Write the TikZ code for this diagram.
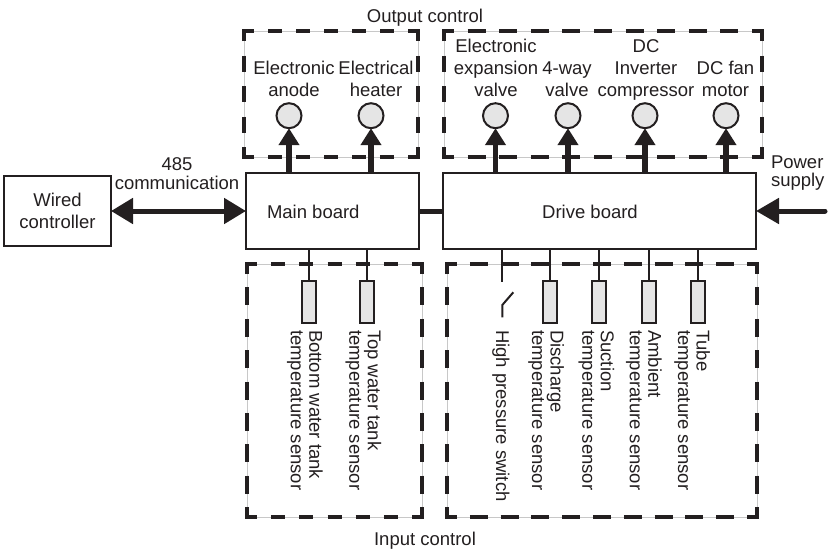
\documentclass[tikz,border=0pt]{standalone}
\usepackage{fontspec}
\setmainfont{Liberation Sans}
\usetikzlibrary{arrows.meta,calc}
\definecolor{ink}{HTML}{231F20}
\definecolor{lgray}{HTML}{E5E5E5}
\definecolor{framegray}{HTML}{C8C8C8}
% one side of a dashed frame: from #1 to #2, length #3, #4 dashes of length #5
\newcommand{\dside}[5]{%
  \pgfmathsetmacro\dsGap{(#3-20-#4*#5)/(#4+1)}%
  \foreach \k in {1,...,#4} {%
    \pgfmathsetmacro\dsS{10+\k*\dsGap+(\k-1)*#5}%
    \pgfmathsetmacro\dsE{\dsS+#5}%
    \draw[dashseg] ($(#1)!\dsS pt!(#2)$) -- ($(#1)!\dsE pt!(#2)$);
  }}
% dashed frame (x1,y1)-(x2,y2); #5 dashes of #6 on horizontal sides, #7 dashes of #8 on vertical sides
\newcommand{\dframe}[8]{%
  \coordinate (fa) at (#1,#2); \coordinate (fb) at (#3,#2);
  \coordinate (fc) at (#3,#4); \coordinate (fd) at (#1,#4);
  \draw[thinframe] (fa) rectangle (fc);
  \foreach \p/\q/\r in {fa/fb/fd, fb/fc/fa, fc/fd/fb, fd/fa/fc} {%
    \draw[dashseg, line join=miter] ($(\p)!10pt!(\r)$) -- (\p) -- ($(\p)!10pt!(\q)$);}
  \pgfmathsetmacro\dfW{abs(#3-#1)}%
  \pgfmathsetmacro\dfH{abs(#4-#2)}%
  \dside{fa}{fb}{\dfW}{#5}{#6}
  \dside{fd}{fc}{\dfW}{#5}{#6}
  \dside{fa}{fd}{\dfH}{#7}{#8}
  \dside{fb}{fc}{\dfH}{#7}{#8}
}
\begin{document}
\begin{tikzpicture}[x=1pt,y=-1pt,
  every node/.style={inner sep=0pt, outer sep=0pt, text=ink, font=\fontsize{18.5}{22}\selectfont},
  boardbox/.style={draw=ink, line width=1.8pt, fill=white},
  dashseg/.style={draw=ink, line width=3.3pt},
  thinframe/.style={draw=framegray, line width=0.8pt},
  outcircle/.style={circle, draw=ink, fill=lgray, line width=2pt, minimum size=25pt},
  sensorbox/.style={rectangle, draw=ink, fill=lgray, line width=2pt, minimum width=14pt, minimum height=42pt},
  uparrow/.style={draw=ink, line width=5.5pt, -{Triangle[length=17pt,width=20pt]}},
  bigline/.style={draw=ink, line width=5pt},
  stub/.style={draw=ink, line width=2pt},
  olabel/.style={align=center, anchor=south},
  rlabel/.style={rotate=-90, anchor=west, align=left, font=\fontsize{18.5}{18.5}\selectfont}
]
\useasboundingbox (0,0) rectangle (828,549);

% dashed group frames
\dframe{244}{31}{418}{157}{5}{14}{3}{16}
\dframe{444}{31}{762}{157}{9}{18}{3}{16}
\dframe{247}{264}{422}{517}{5}{14}{7}{18}
\dframe{447}{264}{757}{517}{9}{18}{7}{18}

\node[anchor=base] (outtitle) at (425,22.5) {Output control};
\node[anchor=base] (intitle) at (425,545) {Input control};

% boards
\node[boardbox, minimum width=107pt, minimum height=70pt] (wired) at (57.5,211) {};
\node[boardbox, minimum width=173pt, minimum height=76pt] (main) at (332.5,211) {};
\node[boardbox, minimum width=313pt, minimum height=76pt] (drive) at (599.5,211) {};

\node[align=center, anchor=south, font=\fontsize{18.5}{21.5}\selectfont] (wiredtxt) at (57.5,234.5) {Wired\\controller\strut};
\node[anchor=base west] (maintxt) at (267,218.3) {Main board};
\node[anchor=base] (drivetxt) at (590,218.3) {Drive board};

% connections between boards
\draw[bigline, {Triangle[length=22pt,width=25pt]}-{Triangle[length=22pt,width=25pt]}] (wired.east) -- (main.west);
\node[align=center, anchor=south, font=\fontsize{18.5}{18.6}\selectfont] (commtxt) at (177,194.9) {485\\communication\strut};
\draw[bigline] (main.east) -- (drive.west);
\coordinate (pwr) at (825,211);
\draw[bigline, line cap=round, -{Triangle[length=23pt,width=25pt]}] (pwr) -- (drive.east);
\node[align=left, anchor=south west, font=\fontsize{18.5}{18}\selectfont] (pwrtxt) at (771,192.1) {Power\\supply\strut};

% outputs
\node[outcircle] (c1) at (289,115.7) {};
\node[outcircle] (c2) at (371,115.7) {};
\node[outcircle] (c3) at (495.5,115.7) {};
\node[outcircle] (c4) at (568,115.7) {};
\node[outcircle] (c5) at (645,115.7) {};
\node[outcircle] (c6) at (726,115.7) {};

\draw[uparrow] (c1 |- main.north) -- (c1.south);
\draw[uparrow] (c2 |- main.north) -- (c2.south);
\draw[uparrow] (c3 |- drive.north) -- (c3.south);
\draw[uparrow] (c4 |- drive.north) -- (c4.south);
\draw[uparrow] (c5 |- drive.north) -- (c5.south);
\draw[uparrow] (c6 |- drive.north) -- (c6.south);

\node[olabel] (o1) at (294,103.1) {Electronic\\anode\strut};
\node[olabel] (o2) at (376,103.1) {Electrical\\heater\strut};
\node[olabel] (o3) at (496,103.1) {Electronic\\expansion\\valve\strut};
\node[olabel] (o4) at (567,103.1) {4-way\\valve\strut};
\node[olabel] (o5) at (646,103.1) {DC\\Inverter\\compressor\strut};
\node[olabel] (o6) at (725.5,103.1) {DC fan\\motor\strut};

% inputs
\node[sensorbox] (s1) at (309,302) {};
\node[sensorbox] (s2) at (366.5,302) {};
\node[sensorbox] (s3) at (549.5,302) {};
\node[sensorbox] (s4) at (599,302) {};
\node[sensorbox] (s5) at (648.5,302) {};
\node[sensorbox] (s6) at (698,302) {};

\draw[stub] (s1 |- main.south) -- (s1.north);
\draw[stub] (s2 |- main.south) -- (s2.north);
\draw[stub] (s3 |- drive.south) -- (s3.north);
\draw[stub] (s4 |- drive.south) -- (s4.north);
\draw[stub] (s5 |- drive.south) -- (s5.north);
\draw[stub] (s6 |- drive.south) -- (s6.north);

% high pressure switch
\coordinate (swa) at (502.3,282);
\coordinate (swb) at (502.3,305);
\coordinate (swc) at (502.3,317.3);
\coordinate (swd) at (513.3,292.3);
\draw[stub] (swa |- drive.south) -- (swa);
\draw[stub] (swc) -- (swb) -- (swd);

\node[rlabel] (r1) at (304.9,330) {Bottom water tank\\temperature sensor};
\node[rlabel] (r2) at (363.5,330) {Top water tank\\temperature sensor};
\node[rlabel] (r3) at (501,330) {High pressure switch};
\node[rlabel] (r4) at (546.2,330) {Discharge\\temperature sensor};
\node[rlabel] (r5) at (596.5,330) {Suction\\temperature sensor};
\node[rlabel] (r6) at (643.9,330) {Ambient\\temperature sensor};
\node[rlabel] (r7) at (692.2,330) {Tube\\temperature sensor};
\end{tikzpicture}
\end{document}
